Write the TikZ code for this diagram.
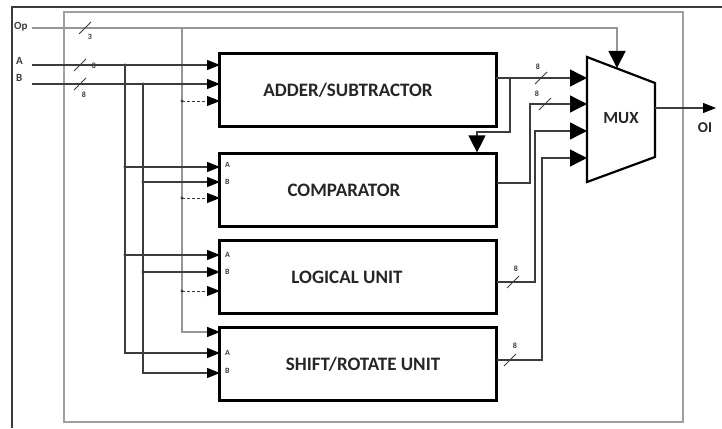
\documentclass[tikz,border=0pt]{standalone}
\usepackage{fontspec}
\setmainfont{Carlito}
\usetikzlibrary{arrows.meta,positioning,calc}
\definecolor{wiregray}{RGB}{60,60,60}
\definecolor{opgray}{RGB}{150,150,150}
\definecolor{framegray}{RGB}{160,160,160}
\tikzset{
  blk/.style={draw=black, line width=2.2pt, minimum width=277pt, minimum height=73pt,
              inner sep=0pt, font=\fontsize{19}{21}\selectfont\bfseries, text=black!85},
  wire/.style={wiregray, line width=1.3pt},
  opw/.style={opgray, line width=1.6pt},
  tapw/.style={wiregray, line width=0.9pt, densely dashed},
  tip/.style={-{Triangle[length=13pt,width=10pt,color=black]}},
  mtip/.style={-{Triangle[length=17pt,width=17pt,color=black]}},
  jdot/.style={circle, fill=wiregray, inner sep=0pt, minimum size=3.2pt},
  plab/.style={font=\fontsize{11}{12}\selectfont\bfseries, text=wiregray, inner sep=1pt},
  blab/.style={font=\fontsize{8}{9}\selectfont\bfseries, text=wiregray, inner sep=1pt},
  slsh/.style={wiregray, line width=1pt},
}
\newcommand{\busmark}[4]{%
  \draw[slsh] ($(#1)+(-6,6)$) -- ($(#1)+(6,-6)$);
  \node[blab] (#2) at ($(#1)+#3$) {#4};}

\begin{document}
\begin{tikzpicture}[x=1pt, y=-1pt]
    \useasboundingbox (0,0) rectangle (722,428);
    % frames
    \draw[framegray, line width=1.8pt] (64,12) rectangle (683,422);
    \draw[wiregray, line width=1.8pt] (12,428) -- (12,7) -- (722,7);
    % units
    \node[blk] (add) at (358,90)  {\hspace*{-20pt}ADDER/SUBTRACTOR};
    \node[blk] (cmp) at (358,190) {\hspace*{-28pt}COMPARATOR};
    \node[blk] (lgc) at (358,277) {\hspace*{-22pt}LOGICAL UNIT};
    \node[blk] (shf) at (358,364) {\hspace*{10pt}SHIFT/ROTATE UNIT};
    % mux
    \coordinate (m1) at (587,57);  \coordinate (m2) at (655,83);
    \coordinate (m3) at (655,157); \coordinate (m4) at (587,182);
    \draw[black, line width=2.2pt] (m1) -- (m2) -- (m3) -- (m4) -- cycle;
    \node[font=\fontsize{17}{19}\selectfont\bfseries, text=black!85] (mux) at (621,118) {MUX};
    \coordinate (in1) at (587,78);  \coordinate (in2) at (587,104);
    \coordinate (in3) at (587,131); \coordinate (in4) at (587,158);
    % ports
    \coordinate (addA) at (220,65);  \coordinate (addB) at (220,84);  \coordinate (addO) at (220,101);
    \coordinate (cmpA) at (220,167); \coordinate (cmpB) at (220,182); \coordinate (cmpO) at (220,198);
    \coordinate (lgcA) at (220,255); \coordinate (lgcB) at (220,272); \coordinate (lgcO) at (220,291);
    \coordinate (shfO) at (220,332); \coordinate (shfA) at (220,353); \coordinate (shfB) at (220,373);
    % left inputs
    \node[plab, anchor=west] (opl) at (13,27) {Op};
    \node[plab, anchor=west] (al) at (15,61) {A};
    \node[plab, anchor=west] (bl) at (15,78) {B};
    \coordinate (opS) at (32,28);
    \coordinate (aS) at (32,65);
    \coordinate (bS) at (32,84);
    \coordinate (aJ) at (125,65);
    \coordinate (bJ) at (143,84);
    \coordinate (opJ) at (182,28);
    \coordinate (opT) at (617,28);
    \coordinate (sel) at (617,68);
    % op select
    \draw[opw, mtip] (opS) -- (opT) -- (sel);
    \draw[opw, tip] (opJ) |- (shfO);
    \draw[tapw, tip] (opJ |- addO) -- (addO);
    \draw[tapw, tip] (opJ |- cmpO) -- (cmpO);
    \draw[tapw, tip] (opJ |- lgcO) -- (lgcO);
    \node[jdot] (d1) at (opJ |- addO) {};
    \node[jdot] (d2) at (opJ |- cmpO) {};
    \node[jdot] (d3) at (opJ |- lgcO) {};
    % operands
    \draw[wire, tip] (aS) -- (addA);
    \draw[wire, tip] (bS) -- (addB);
    \draw[wire, tip] (aJ) |- (shfA);
    \draw[wire, tip] (bJ) |- (shfB);
    \draw[wire, tip] (aJ |- cmpA) -- (cmpA);
    \draw[wire, tip] (bJ |- cmpB) -- (cmpB);
    \draw[wire, tip] (aJ |- lgcA) -- (lgcA);
    \draw[wire, tip] (bJ |- lgcB) -- (lgcB);
    \node[jdot] (d4) at (aJ) {};
    \node[jdot] (d5) at (bJ) {};
    \node[jdot] (d6) at (aJ |- cmpA) {};
    \node[jdot] (d7) at (bJ |- cmpB) {};
    \node[jdot] (d8) at (aJ |- lgcA) {};
    \node[jdot] (d9) at (bJ |- lgcB) {};
    % A/B port labels
    \node[blab, anchor=west] (ca) at ($(cmpA)+(4,-2)$) {A};
    \node[blab, anchor=west] (cb) at ($(cmpB)+(4,0)$) {B};
    \node[blab, anchor=west] (la) at ($(lgcA)+(4,0)$) {A};
    \node[blab, anchor=west] (lb) at ($(lgcB)+(4,0)$) {B};
    \node[blab, anchor=west] (sa) at ($(shfA)+(4,0)$) {A};
    \node[blab, anchor=west] (sb) at ($(shfB)+(4,-2)$) {B};
    % unit outputs to mux
    \coordinate (addOut) at (496,78);
    \coordinate (brA) at (510,78);
    \coordinate (brB) at (477,132);
    \coordinate (cmpOut) at (497,183);
    \coordinate (k2) at (530,104);
    \coordinate (lgcOut) at (497,282);
    \coordinate (k3) at (535,131);
    \coordinate (shfOut) at (497,360);
    \coordinate (k4) at (542,158);
    \draw[wire, mtip] (addOut) -- (in1);
    \draw[wire, mtip] (brA) |- (brB) -- (brB |- cmp.north);
    \draw[wire, mtip] (cmpOut) -| (k2) -- (in2);
    \draw[wire, mtip] (lgcOut) -| (k3) -- (in3);
    \draw[wire, mtip] (shfOut) -| (k4) -- (in4);
    % mux output
    \coordinate (out) at (655,108);
    \coordinate (oiE) at (716,108);
    \draw[wire, tip] (out) -- (oiE);
    \node[font=\fontsize{15}{17}\selectfont\bfseries, text=black!85] (oi) at (705,128) {OI};
    % bus widths
    \busmark{85,28}{w0}{(5,9)}{3}
    \busmark{80,65}{w1}{(14,1)}{8}
    \busmark{80,84}{w2}{(4,11)}{8}
    \busmark{541,78}{w3}{(-3,-11)}{8}
    \busmark{545,104}{w4}{(-8,-10)}{8}
    \busmark{513,282}{w5}{(3,-13)}{8}
    \busmark{510,360}{w6}{(5,-14)}{8}
\end{tikzpicture}
\end{document}
